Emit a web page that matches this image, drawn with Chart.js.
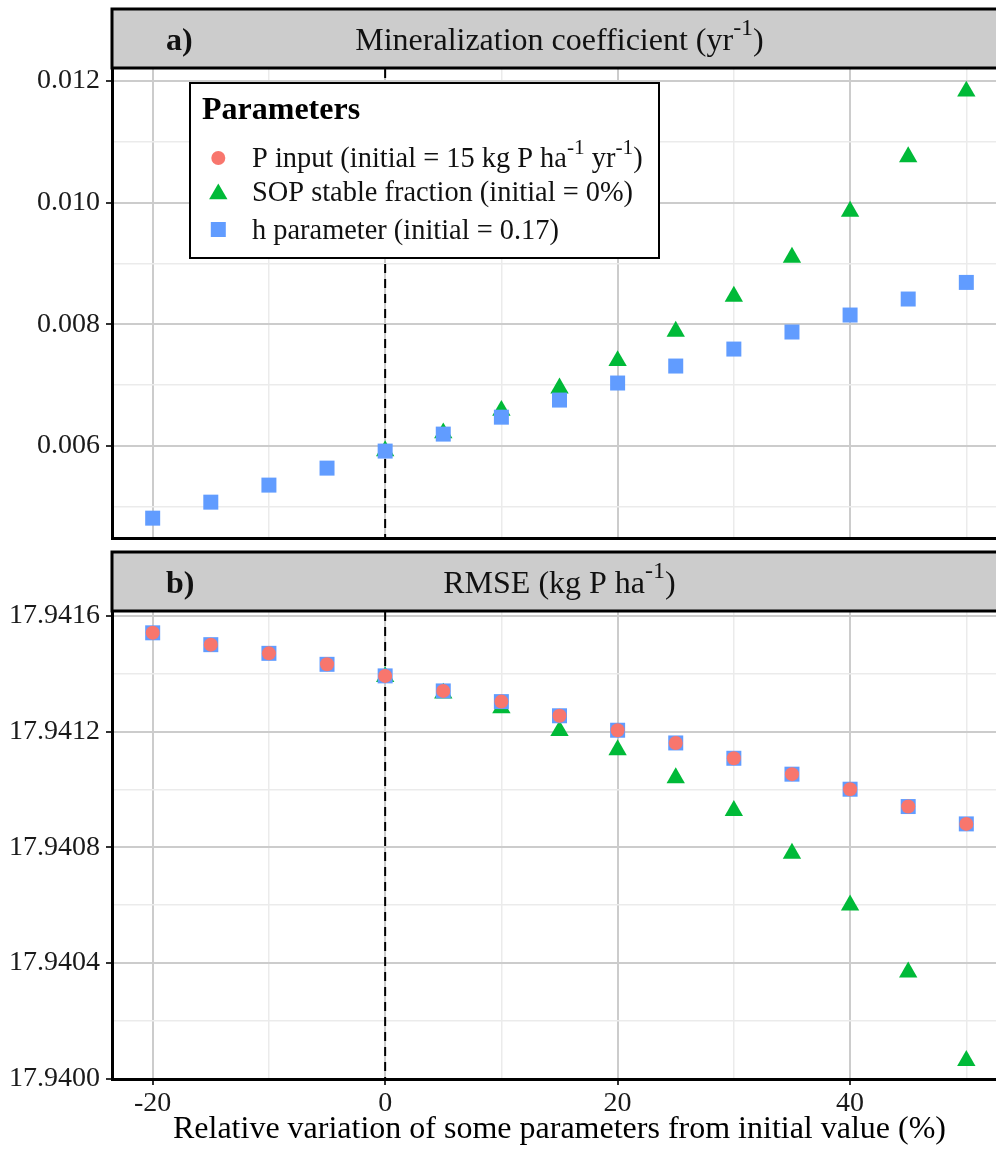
<!DOCTYPE html>
<html lang="en">
<head>
<meta charset="UTF-8">
<title>Sensitivity analysis</title>
<style>
  html, body { margin: 0; padding: 0; background: #fff; overflow: hidden; }
  #wrap { position: relative; width: 996px; height: 1149px; overflow: hidden; }
  canvas { position: absolute; left: 0; }
</style>
</head>
<body>
<div id="wrap">
  <canvas id="chartA" width="1010" height="541" style="top:0px"></canvas>
  <canvas id="chartB" width="1010" height="607" style="top:542px"></canvas>
</div>
<script src="https://cdn.jsdelivr.net/npm/chart.js@4.4.1/dist/chart.umd.min.js"></script>
<script>
// relative variation (%) of each parameter
const variation = [-20, -15, -10, -5, 0, 5, 10, 15, 20, 25, 30, 35, 40, 45, 50];
const sopVariation = [0, 5, 10, 15, 20, 25, 30, 35, 40, 45, 50];

// panel a) mineralization coefficient (yr-1)
const minerH = [0.004816, 0.005079, 0.005359, 0.005638, 0.005918, 0.006197, 0.006475, 0.006756,
                0.007036, 0.007315, 0.007594, 0.007874, 0.008153, 0.008416, 0.008689];
const minerSop = [0.00592, 0.006214, 0.006585, 0.006953, 0.007402, 0.007884, 0.008459,
                  0.0091, 0.009856, 0.010751, 0.011829];

// panel b) RMSE (kg P ha-1)
const rmsePInput = [17.941542, 17.941501, 17.941471, 17.941433, 17.941393, 17.941341, 17.941304,
                    17.941255, 17.941205, 17.941161, 17.941108, 17.941053, 17.941001, 17.940941, 17.940881];
const rmseH = rmsePInput.slice();
const rmseSop = [17.941390, 17.941333, 17.941282, 17.941203, 17.941137, 17.941040, 17.940927,
                 17.940779, 17.940600, 17.940368, 17.940062];

const xMajor = [-20, 0, 20, 40];
const xMinor = [-10, 10, 30, 50];
const yMajorA = [0.006, 0.008, 0.010, 0.012];
const yMinorA = [0.005, 0.007, 0.009, 0.011];
const yMajorB = [17.9400, 17.9404, 17.9408, 17.9412, 17.9416];
const yMinorB = [17.9402, 17.9406, 17.9410, 17.9414];
const initialValue = 0;

const seriesNames = [
  [['P input (initial = 15 kg P ha', 0], ['-1', 1], [' yr', 0], ['-1', 1], [')', 0]],
  [['SOP stable fraction (initial = 0%)', 0]],
  [['h parameter (initial = 0.17)', 0]]
];
const legendTitle = 'Parameters';
const stripA = { tag: 'a)', title: [['Mineralization coefficient (yr', 0], ['-1', 1], [')', 0]] };
const stripB = { tag: 'b)', title: [['RMSE (kg P ha', 0], ['-1', 1], [')', 0]] };
const xTitle = 'Relative variation of some parameters from initial value (%)';

const RED = '#F8766D', GREEN = '#00BA38', BLUE = '#619CFF';
const SERIF = '"Liberation Serif", "Times New Roman", serif';

function pts(xs, ys) { return xs.map((x, i) => ({ x: x, y: ys[i] })); }

function drawRich(ctx, parts, x, y, size, weight, align) {
  const f = s => weight + ' ' + s + 'px ' + SERIF;
  const widths = parts.map(p => { ctx.font = f(p[1] ? size * 0.75 : size); return ctx.measureText(p[0]).width; });
  const total = widths.reduce((a, b) => a + b, 0);
  let cx = align === 'center' ? x - total / 2 : x;
  ctx.textAlign = 'left';
  ctx.textBaseline = 'alphabetic';
  parts.forEach((p, i) => {
    ctx.font = f(p[1] ? size * 0.75 : size);
    ctx.fillText(p[0], cx, p[1] ? y - size * 0.45 : y);
    cx += widths[i];
  });
}

function drawMarker(ctx, style, color, x, y) {
  ctx.fillStyle = color;
  ctx.beginPath();
  if (style === 'circle') {
    ctx.arc(x, y, 7, 0, Math.PI * 2);
  } else if (style === 'triangle') {
    const r = 10.6;
    ctx.moveTo(x, y - r);
    ctx.lineTo(x + r * 0.866, y + r / 2);
    ctx.lineTo(x - r * 0.866, y + r / 2);
    ctx.closePath();
  } else {
    ctx.rect(x - 7.5, y - 7.5, 15, 15);
  }
  ctx.fill();
}

// grey facet strip above the panel + dashed line at initial value
const facetPlugin = {
  id: 'facet',
  beforeDatasetsDraw(chart, args, opts) {
    const ctx = chart.ctx, a = chart.chartArea;
    const x0 = chart.scales.x.getPixelForValue(initialValue);
    ctx.save();
    ctx.strokeStyle = '#000';
    ctx.lineWidth = 2;
    ctx.setLineDash([9, 6]);
    ctx.beginPath();
    ctx.moveTo(x0, a.top);
    ctx.lineTo(x0, a.bottom);
    ctx.stroke();
    ctx.restore();
  },
  afterDraw(chart, args, opts) {
    const ctx = chart.ctx, a = chart.chartArea;
    ctx.save();
    const top = opts.top, bottom = a.top - 1;
    ctx.fillStyle = '#CCCCCC';
    ctx.fillRect(a.left, top, a.right - a.left, bottom - top);
    ctx.strokeStyle = '#000';
    ctx.lineWidth = 3;
    ctx.strokeRect(a.left, top, a.right - a.left, bottom - top);
    ctx.fillStyle = '#111';
    const base = (top + bottom) / 2 + 11;
    drawRich(ctx, [[opts.strip.tag, 0]], 166, base, 32, 'bold', 'left');
    drawRich(ctx, opts.strip.title, (a.left + a.right) / 2, base, 32, 'normal', 'center');
    ctx.restore();
  }
};

const legendPlugin = {
  id: 'boxLegend',
  afterDraw(chart) {
    const ctx = chart.ctx;
    ctx.save();
    ctx.fillStyle = '#fff';
    ctx.fillRect(190, 83, 469, 175);
    ctx.strokeStyle = '#000';
    ctx.lineWidth = 2;
    ctx.strokeRect(190, 83, 469, 175);
    ctx.fillStyle = '#000';
    drawRich(ctx, [[legendTitle, 0]], 202, 119, 32, 'bold', 'left');
    const styles = ['circle', 'triangle', 'rect'];
    const colors = [RED, GREEN, BLUE];
    const ys = [158, 194, 229.5];
    seriesNames.forEach((name, i) => {
      drawMarker(ctx, styles[i], colors[i], 218.3, ys[i]);
      ctx.fillStyle = '#111';
      drawRich(ctx, name, 252, (i === 1 ? ys[i] - 2.5 : ys[i]) + 9, 28.4, 'normal', 'left');
    });
    ctx.restore();
  }
};

function gridOpts(majors) {
  return {
    color: c => majors.includes(+c.tick.value.toFixed(6)) ? '#CCCCCC' : '#EBEBEB',
    lineWidth: c => majors.includes(+c.tick.value.toFixed(6)) ? 2 : 1.5,
    tickColor: c => majors.includes(+c.tick.value.toFixed(6)) ? '#333' : 'rgba(0,0,0,0)',
    tickWidth: 2,
    tickLength: 6
  };
}

function xScale(showLabels) {
  return {
    type: 'linear', min: -23.5, max: 53.5,
    afterBuildTicks: s => { s.ticks = xMajor.concat(xMinor).sort((a, b) => a - b).map(v => ({ value: v })); },
    afterFit: s => { s.height = showLabels ? 70 : 3; s.paddingLeft = 0; s.paddingRight = 0; },
    border: { color: '#000', width: 3 },
    grid: Object.assign(gridOpts(xMajor), { drawTicks: showLabels }),
    ticks: {
      display: showLabels, color: '#1a1a1a', padding: 2, maxRotation: 0, autoSkip: false,
      font: { family: SERIF, size: 28 },
      callback: v => xMajor.includes(v) ? String(v) : ''
    },
    title: {
      display: showLabels, text: xTitle, color: '#000', padding: { top: 0, bottom: 0 },
      font: { family: SERIF, size: 32 }
    }
  };
}

function yScale(min, max, majors, minors, digits) {
  return {
    type: 'linear', min: min, max: max,
    afterBuildTicks: s => { s.ticks = majors.concat(minors).sort((a, b) => a - b).map(v => ({ value: v })); },
    afterFit: s => { s.width = 112; s.paddingTop = 0; s.paddingBottom = 0; },
    border: { color: '#000', width: 3 },
    grid: gridOpts(majors),
    ticks: {
      color: '#1a1a1a', padding: 6, autoSkip: false,
      font: { family: SERIF, size: 28 },
      callback: v => majors.includes(+v.toFixed(6)) ? v.toFixed(digits) : ''
    }
  };
}

function scatter(label, data, style, color, radius) {
  return {
    label: label, data: data, pointStyle: style, pointRadius: radius, pointHoverRadius: radius,
    backgroundColor: color, borderColor: color, borderWidth: 0, showLine: false, clip: false
  };
}

const common = {
  responsive: false, animation: false, events: [],
  plugins: { legend: { display: false }, tooltip: { enabled: false } }
};

new Chart(document.getElementById('chartA'), {
  type: 'scatter',
  data: {
    datasets: [
      scatter('h parameter', pts(variation, minerH), 'rect', BLUE, 10.6),
      scatter('SOP stable fraction', pts(sopVariation, minerSop), 'triangle', GREEN, 10.6)
    ]
  },
  options: Object.assign({}, common, {
    layout: { autoPadding: false, padding: { top: 69, right: 3, bottom: 0, left: 0 } },
    scales: { x: xScale(false), y: yScale(0.00449, 0.012195, yMajorA, yMinorA, 3) },
    plugins: Object.assign({}, common.plugins, { facet: { top: 9, strip: stripA } })
  }),
  plugins: [facetPlugin, legendPlugin]
});

new Chart(document.getElementById('chartB'), {
  type: 'scatter',
  data: {
    datasets: [
      scatter('P input', pts(variation, rmsePInput), 'circle', RED, 7),
      scatter('h parameter', pts(variation, rmseH), 'rect', BLUE, 10.6),
      scatter('SOP stable fraction', pts(sopVariation, rmseSop), 'triangle', GREEN, 10.6)
    ]
  },
  options: Object.assign({}, common, {
    layout: { autoPadding: false, padding: { top: 70, right: 3, bottom: 0, left: 0 } },
    scales: { x: xScale(true), y: yScale(17.9399985, 17.941614, yMajorB, yMinorB, 4) },
    plugins: Object.assign({}, common.plugins, { facet: { top: 10, strip: stripB } })
  }),
  plugins: [facetPlugin]
});
</script>
</body>
</html>
